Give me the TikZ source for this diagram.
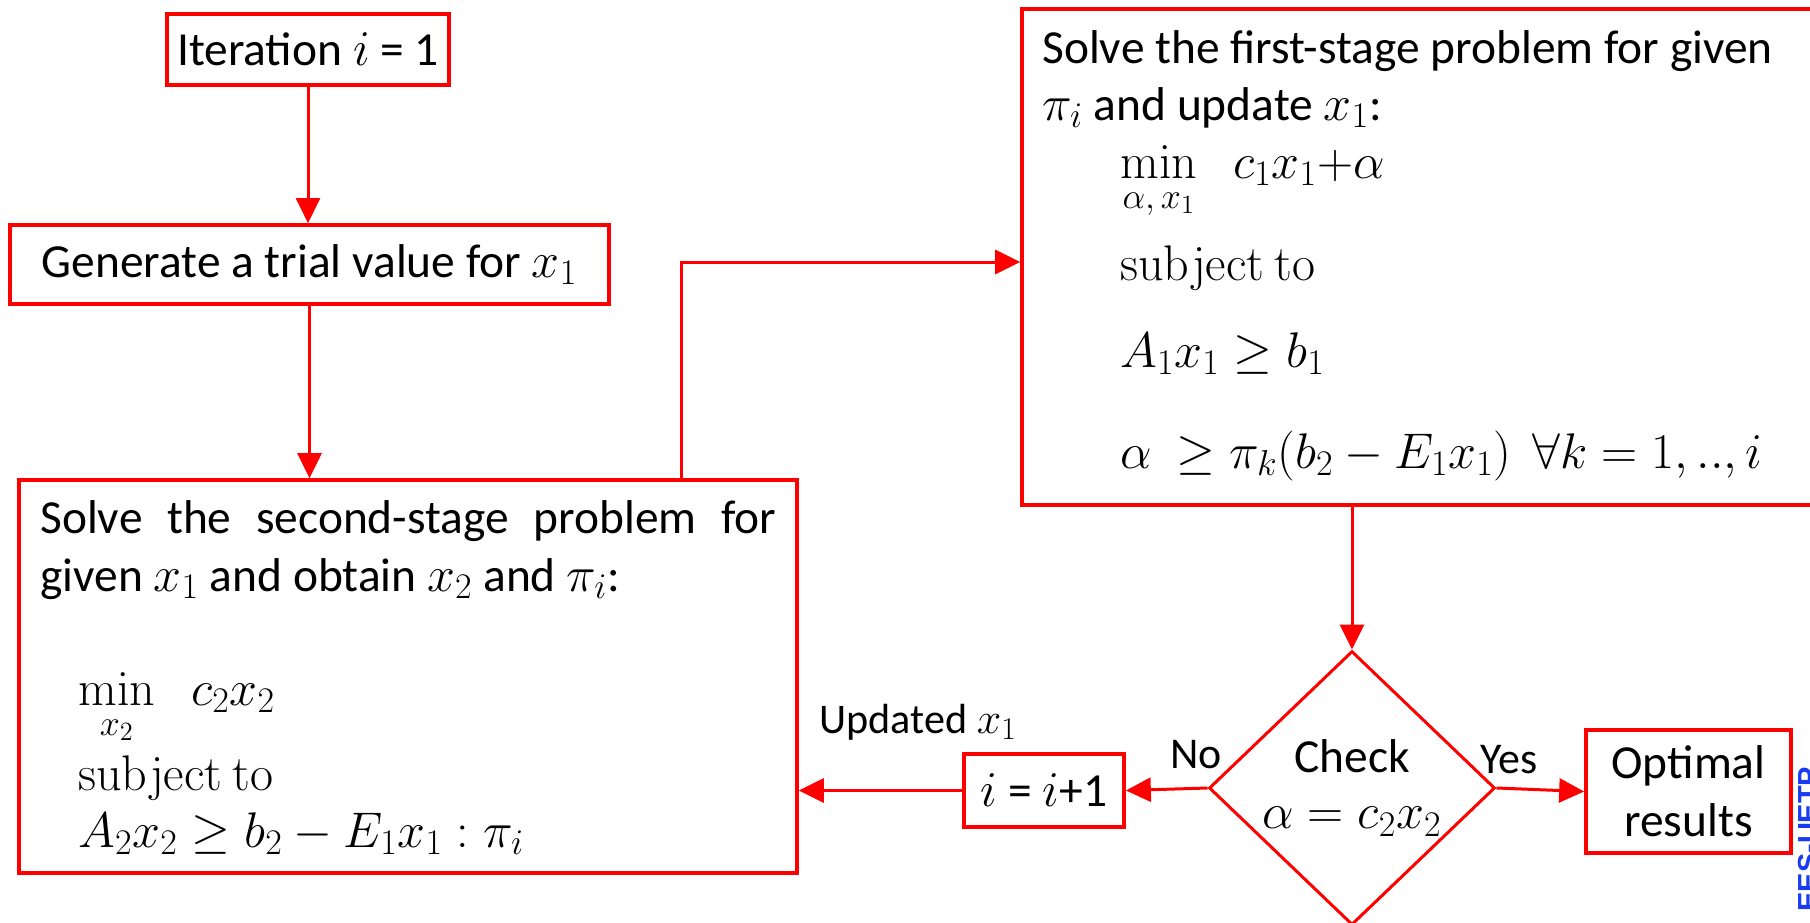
\RequirePackage{fix-cm}
\documentclass[tikz,border=0pt]{standalone}
\usepackage{amsmath,amssymb}
\usepackage[no-math]{fontspec}
\setmainfont{Carlito}
\newfontfamily\wmfont{Liberation Sans}
\DeclareMathSizes{27}{28.5}{20.5}{15}
\DeclareMathSizes{24}{25}{18}{13}
\usepackage{tikz}
\usetikzlibrary{positioning,arrows.meta,calc,shapes.geometric}
\definecolor{ink}{HTML}{000000}
\definecolor{fRed}{HTML}{FF0000}
\definecolor{wBlue}{HTML}{1A3CF0}
\tikzset{
  blk/.style={rectangle, draw=fRed, line width=0.075cm, inner sep=0pt, font=\fontsize{27}{33}\selectfont, text=ink, align=center},
  txt/.style={anchor=base west, inner sep=0pt, font=\fontsize{27}{33}\selectfont, text=ink},
  lbl/.style={anchor=base west, inner sep=0pt, font=\fontsize{24}{28}\selectfont, text=ink},
  flow/.style={-{Triangle[length=0.5cm, width=0.48cm]}, fRed, line width=0.06cm},
}

\begin{document}
\begin{tikzpicture}[x=0.02cm, y=-0.02cm,
  chk/.style={diamond, draw=fRed, line width=0.06cm, inner sep=0pt, aspect=1.04, minimum width=5.72cm, minimum height=5.48cm, font=\fontsize{27}{32}\selectfont, text=ink, align=center}]
\useasboundingbox (0,0) rectangle (1810,923);
\clip (0,0) rectangle (1810,923);
% boxes
\node[blk, minimum width=5.64cm, minimum height=1.42cm] (iter) at (308,49.5) {Iteration $i$ = 1};
\node[blk, minimum width=11.98cm, minimum height=1.58cm] (trial) at (309.5,264.5) {Generate a trial value for $x_1$};
\node[blk, minimum width=15.56cm, minimum height=7.86cm] (second) at (408,676.5) {};
\node[blk, minimum width=16.16cm, minimum height=9.92cm] (first) at (1426,257) {};
\node[blk, minimum width=3.2cm, minimum height=1.46cm] (incr) at (1044,790.5) {$i$ = $i$+1};
\node[blk, minimum width=4.1cm, minimum height=2.46cm] (opt) at (1688.5,791.5) {Optimal\\results};
\node[chk] (check) at (1352,788) {Check\\$\alpha = c_2x_2$};
% second-stage text
\node[txt] (s1) at (40,533) {\makebox[14.72cm][s]{Solve the second-stage problem for}};
\node[txt] (s2) at (40,591) {given $x_1$ and obtain $x_2$ and $\pi_i$:};
\node[txt] (s3) at (78,705) {$\displaystyle\min_{x_2}\;\; c_2x_2$};
\node[txt] (s4) at (78,790) {$\mathrm{subject\ to}$};
\node[txt] (s5) at (78,847) {$A_2x_2 \geq b_2 - E_1x_1 : \pi_i$};
% first-stage text
\node[txt] (f1) at (1042,63) {Solve the first-stage problem for given};
\node[txt] (f2) at (1042,120) {$\pi_i$ and update $x_1$:};
\node[txt] (f3) at (1120,178) {$\displaystyle\min_{\alpha,\, x_1}\;\; c_1x_1{+}\alpha$};
\node[txt] (f4) at (1120,280) {$\mathrm{subject\ to}$};
\node[txt] (f5) at (1120,367) {$A_1x_1 \geq b_1$};
\node[txt] (f6) at (1120,468) {$\alpha\ \geq \pi_k(b_2 - E_1x_1)\ \ \forall k = 1,..,i$};
% labels
\node[lbl] (upd) at (819,733) {Updated $x_1$};
\node[lbl, font=\fontsize{25}{30}\selectfont] (no) at (1170,768) {No};
\node[lbl, font=\fontsize{25}{30}\selectfont] (yes) at (1480,773) {Yes};
\node[rotate=90, anchor=base west, inner sep=0pt, text=wBlue, font=\wmfont\bfseries\fontsize{16.5}{18}\selectfont] (ees) at (1818,912) {EES-UETP};
% connectors
\coordinate (bend) at (681,262);
\draw[flow] (iter.south) -- (iter.south |- trial.north);
\draw[flow] (trial.south) -- (trial.south |- second.north);
\draw[flow] (second.north -| bend) |- (first.west |- bend);
\draw[flow] (check.north |- first.south) -- (check.north);
\draw[flow] (check.west) -- (incr.east);
\draw[flow] (incr.west) -- (incr.west -| second.east);
\draw[flow] (check.east) -- (opt.west);
\end{tikzpicture}
\end{document}
